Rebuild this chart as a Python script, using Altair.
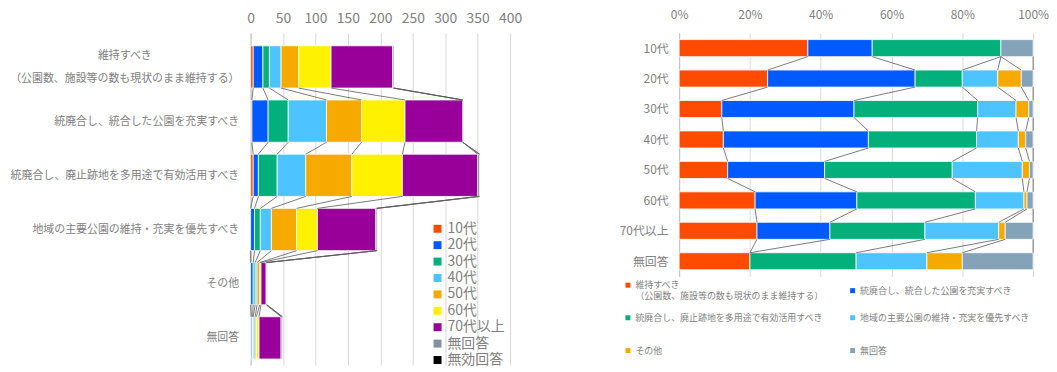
import json
import altair as alt
import pandas as pd

FONT = "Noto Sans CJK JP"
GRAY = "#808080"

ages = ["10代", "20代", "30代", "40代", "50代", "60代", "70代以上", "無回答", "無効回答"]
age_colors = ["#FF4B00", "#005AFF", "#03AF7A", "#4DC4FF", "#F6AA00", "#FFF100", "#990099", "#84919E", "#000000"]

options = [
    "維持すべき|（公園数、施設等の数も現状のまま維持する）",
    "統廃合し、統合した公園を充実すべき",
    "統廃合し、廃止跡地を多用途で有効活用すべき",
    "地域の主要公園の維持・充実を優先すべき",
    "その他",
    "無回答",
]
option_colors = ["#FF4B00", "#005AFF", "#03AF7A", "#4DC4FF", "#F6AA00", "#84A2B8"]

# counts per option, by age group (ages order)
iji = [4, 15, 10, 18, 27, 50, 95, 2, 0]
togo = [2, 25, 31, 59, 54, 67, 89, 0, 0]
haishi = [4, 8, 29, 44, 71, 78, 116, 3, 0]
chiiki = [0, 6, 9, 17, 39, 32, 90, 2, 0]
sonota = [0, 4, 3, 3, 4, 2, 8, 1, 0]
mukaito = [1, 2, 1, 3, 2, 4, 34, 2, 0]
counts = [iji, togo, haishi, chiiki, sonota, mukaito]

x_ticks_left = [0, 50, 100, 150, 200, 250, 300, 350, 400]
x_ticks_right = [0, 0.2, 0.4, 0.6, 0.8, 1.0]

# ---------------- left chart data ----------------
HL = 0.39
bars_l, conn_l, ends_l = [], [], []
for i, vals in enumerate(counts):
    cum = 0
    e = []
    for a, v in zip(ages, vals):
        if v > 0:
            bars_l.append(dict(age=a, x0=cum, x1=cum + v, y0=i - HL, y1=i + HL))
        cum += v
        e.append(cum)
    ends_l.append(e)
for i in range(len(counts) - 1):
    for j in range(len(ages)):
        conn_l.append(dict(x0=ends_l[i][j], x1=ends_l[i + 1][j], y0=i + HL, y1=i + 1 - HL))
df_bl = pd.DataFrame(bars_l)
df_cl = pd.DataFrame(conn_l)

# ---------------- right chart data ----------------
ages_r = ages[:8]
HR = 0.28
bars_r, conn_r, ends_r = [], [], []
for k, a in enumerate(ages_r):
    col = [counts[o][k] for o in range(len(options))]
    tot = sum(col)
    cum = 0.0
    e = []
    for o, v in enumerate(col):
        p = v / tot
        if v > 0:
            bars_r.append(dict(opt=options[o], x0=cum, x1=cum + p, y0=k - HR, y1=k + HR))
        cum += p
        e.append(cum)
    ends_r.append(e)
for k in range(len(ages_r) - 1):
    for o in range(len(options)):
        conn_r.append(dict(x0=ends_r[k][o], x1=ends_r[k + 1][o], y0=k + HR, y1=k + 1 - HR))
df_br = pd.DataFrame(bars_r)
df_cr = pd.DataFrame(conn_r)

lab_l = json.dumps(options, ensure_ascii=False)
lab_r = json.dumps(ages_r, ensure_ascii=False)

# ---------------- left chart ----------------
xl = alt.X("x0:Q", scale=alt.Scale(domain=[0, 400], nice=False),
           axis=alt.Axis(orient="top", values=x_ticks_left, title=None, ticks=False, tickSize=0,
                         domain=False, grid=True, gridColor="#d9d9d9", labelFontSize=14,
                         labelColor=GRAY, labelPadding=7, labelOverlap=False, labelFlush=False,
                         minExtent=22, maxExtent=22))
yl = alt.Y("y0:Q", scale=alt.Scale(domain=[-0.628, 5.5], reverse=True, nice=False, zero=False),
           axis=alt.Axis(values=list(range(len(options))), title=None, ticks=False, tickSize=0,
                         grid=False, domain=True, domainColor="#bfbfbf",
                         labelExpr=f"split({lab_l}[datum.value], '|')",
                         labelOffset={"condition": {"test": "datum.value == 0", "value": -11.5}, "value": 0},
                         labelAlign={"condition": {"test": "datum.value == 0", "value": "center"}, "value": "right"},
                         labelPadding={"condition": {"test": "datum.value == 0", "value": 127}, "value": 12},
                         labelFontSize=11, labelColor=GRAY, labelOverlap=False,
                         labelLineHeight=23, labelLimit=400, minExtent=244, maxExtent=244))

left_bars = alt.Chart(df_bl).mark_rect(stroke="white", strokeWidth=0.8).encode(
    x=xl, x2="x1:Q", y=yl, y2="y1:Q",
    color=alt.Color("age:N", scale=alt.Scale(domain=ages, range=age_colors),
                    legend=alt.Legend(title=None, orient="none", legendX=181, legendY=190,
                                      symbolType="square", symbolSize=64, symbolStrokeWidth=0,
                                      labelFontSize=14, labelColor=GRAY, rowPadding=2.5,
                                      labelOffset=3)),
)
left_conn = alt.Chart(df_cl).mark_rule(color="#595959", strokeWidth=0.8).encode(
    x=xl, x2="x1:Q", y=yl, y2="y1:Q")
left = alt.layer(left_bars, left_conn).properties(width=261, height=334)

# ---------------- right chart ----------------
xr = alt.X("x0:Q", scale=alt.Scale(domain=[0, 1], nice=False),
           axis=alt.Axis(orient="top", values=x_ticks_right, format=".0%", title=None, ticks=False,
                         tickSize=0, domain=False, grid=True, gridColor="#d9d9d9", labelFontSize=12,
                         labelColor=GRAY, labelPadding=11, labelOverlap=False, labelFlush=False,
                         minExtent=22, maxExtent=22))
yr = alt.Y("y0:Q", scale=alt.Scale(domain=[-0.5, 7.5], reverse=True, nice=False, zero=False),
           axis=alt.Axis(values=list(range(len(ages_r))), title=None, ticks=False, tickSize=0,
                         grid=False, domain=True, domainColor="#bfbfbf",
                         labelExpr=f"{lab_r}[datum.value]", labelOverlap=False,
                         labelFontSize=12, labelColor=GRAY, labelPadding=11,
                         minExtent=60, maxExtent=60))
right_bars = alt.Chart(df_br).mark_rect(stroke="white", strokeWidth=0.8).encode(
    x=xr, x2="x1:Q", y=yr, y2="y1:Q",
    color=alt.Color("opt:N", scale=alt.Scale(domain=options, range=option_colors),
                    legend=alt.Legend(title=None, orient="none", legendX=-56, legendY=249,
                                      columns=2, direction="horizontal", gridAlign="all",
                                      symbolType="square", symbolSize=25, symbolStrokeWidth=0,
                                      labelFontSize=9, labelColor=GRAY,
                                      labelExpr="split(datum.label, '|')",
                                      labelLimit=400, columnPadding=24, rowPadding=12,
                                      labelOffset=3)),
)
right_conn = alt.Chart(df_cr).mark_rule(color="#595959", strokeWidth=0.8).encode(
    x=xr, x2="x1:Q", y=yr, y2="y1:Q")
right = alt.layer(right_bars, right_conn).properties(width=356, height=245)

chart = (
    alt.hconcat(left, right, spacing=97)
    .resolve_scale(color="independent")
    .properties(padding=0)
    .configure(font=FONT)
    .configure_view(stroke=None)
)
chart.save("out.html", embed_options={"renderer": "svg", "actions": False})
